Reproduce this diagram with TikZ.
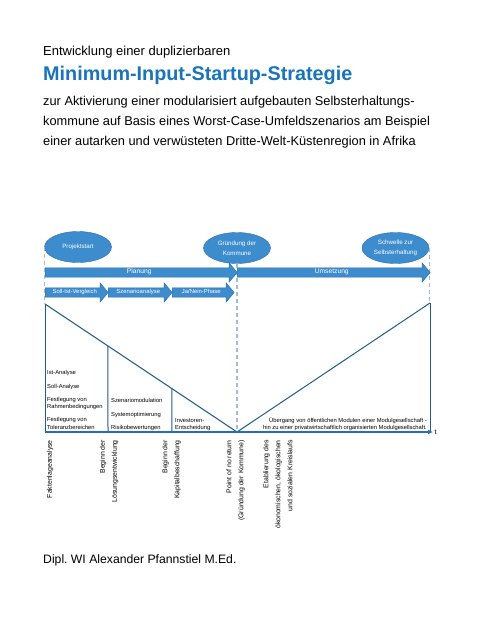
\documentclass[tikz,border=0pt]{standalone}
\usepackage{fontspec}
\setmainfont{Liberation Sans}
\usetikzlibrary{positioning,shapes.geometric,shapes.arrows,arrows.meta,calc}

\definecolor{mainblue}{HTML}{3D8CCD}
\definecolor{edgeblue}{HTML}{2B6FA9}
\definecolor{titleblue}{HTML}{1A74BA}
\definecolor{triline}{HTML}{1F5E88}
\definecolor{axisblue}{HTML}{2371B4}
\definecolor{dashblue}{HTML}{A0BDD8}

\frenchspacing

\tikzset{
    headline/.style={anchor=base west, inner sep=0pt, font=\fontsize{12.8}{16}\selectfont},
    milestone/.style={ellipse, draw=edgeblue, fill=mainblue, text=white, minimum width=67pt,
        minimum height=31pt, inner sep=0pt, align=center, font=\fontsize{6.2}{10}\selectfont},
    phase/.style={single arrow, draw=edgeblue, fill=mainblue, text=white, anchor=west,
        inner ysep=2.3pt, inner xsep=0pt, text height=3.4pt, text depth=0.9pt,
        single arrow head extend=5pt, single arrow tip angle=100, font=\fontsize{6.7}{7}\selectfont},
    subphase/.style={phase, font=\fontsize{5.9}{6}\selectfont},
    note/.style={anchor=base west, inner sep=0pt, font=\fontsize{5.8}{7}\selectfont},
    timelabel/.style={rotate=90, anchor=east, align=right, inner sep=0pt, font=\fontsize{6.9}{12}\selectfont},
    triline/.style={draw=triline, line width=1pt},
    guide/.style={draw=dashblue, line width=1.1pt, dash pattern=on 4pt off 3pt}
}

\begin{document}
\begin{tikzpicture}[x=1pt,y=-1pt]
    \useasboundingbox (0,0) rectangle (480,621);

    % Titel
    \node[headline, font=\fontsize{13}{16}\selectfont] (titel1) at (43,55) {Entwicklung einer duplizierbaren};
    \node[headline, text=titleblue, font=\bfseries\fontsize{19.8}{24}\selectfont] (titel2) at (43,80) {Minimum-Input-Startup-Strategie};
    \node[headline] (titel3) at (43,105) {zur Aktivierung einer modularisiert aufgebauten Selbsterhaltungs-};
    \node[headline] (titel4) at (43,125) {kommune auf Basis eines Worst-Case-Umfeldszenarios am Beispiel};
    \node[headline] (titel5) at (43,145) {einer autarken und verwüsteten Dritte-Welt-Küstenregion in Afrika};

    % Meilensteine
    \node[milestone] (start) at (78,247) {Projektstart};
    \node[milestone] (gruendung) at (237,248) {Gründung der\\Kommune};
    \node[milestone] (schwelle) at (395.5,248) {Schwelle zur\\Selbsterhaltung};

    \coordinate (ta) at (45,304);
    \coordinate (tv) at (237,432);
    \coordinate (tb) at (430,303);

    \draw[guide] (start.west) -- (start.west |- ta);
    \draw[guide] (gruendung.south) -- (tv);
    \draw[guide] (schwelle.east) -- (schwelle.east |- tb);

    % Phasen
    \node[phase, minimum height=192pt] (planung) at (45,272.5) {Planung};
    \node[phase, minimum height=193pt] (umsetzung) at (237,272.5) {Umsetzung};
    \node[subphase, minimum height=63pt] (sollist) at (45,292.5) {Soll-Ist-Vergleich};
    \node[subphase, minimum height=64pt] (szenario) at (108,292.5) {Szenarioanalyse};
    \node[subphase, minimum height=62pt] (janein) at (172,292.5) {Ja/Nein-Phase};

    % Verlauf
    \draw[triline] (ta) -- (tv) -- (tb);
    \draw[triline] (ta) -- (ta |- tv);
    \draw[triline] (tb) -- (tb |- tv);
    \foreach \xx/\ff in {108/0.328,172/0.661}
        \draw[triline] ($(ta)!\ff!(tv)$) -- (\xx,432);
    \draw[draw=axisblue, line width=1.1pt, -{Latex[length=5pt,width=5pt]}] (ta |- tv) -- (433,432)
        node[right=1pt, inner sep=0pt, font=\fontsize{7}{8}\selectfont] (tlabel) {t};

    \foreach \yy/\txt [count=\i] in {374/Ist-Analyse, 388/Soll-Analyse, 401/Festlegung von,
        408/Rahmenbedingungen, 421/Festlegung von, 429/Toleranzbereichen}
        \node[note] (analyse-\i) at (47,\yy) {\txt};
    \foreach \yy/\txt [count=\i] in {402/Szenariomodulation, 416/Systemoptimierung, 429/Risikobewertungen}
        \node[note] (modul-\i) at (111,\yy) {\txt};
    \foreach \yy/\txt [count=\i] in {422/Investoren-, 429/Entscheidung}
        \node[note] (investor-\i) at (175,\yy) {\txt};
    \node[note, anchor=base east] (uebergang-1) at (427,422.5) {Übergang von öffentlichen Modulen einer Modulgesellschaft -};
    \node[note, anchor=base east] (uebergang-2) at (427,429) {hin zu einer privatwirtschaftlich organisierten Modulgesellschaft.};

    % Zeitpunkte
    \foreach \xx/\txt [count=\i] in {50/Faktenlageanalyse, 109/{Beginn der\\Lösungsentwicklung},
        171.5/{Beginn der\\Kapitalbeschaffung}, 235.5/{Point of no return\\(Gründung der Kommune)},
        278/{Etablierung des\\ökonomischen, ökologischen\\und sozialen Kreislaufs}}
        \node[timelabel] (zeit-\i) at (\xx,440) {\txt};

    \node[headline, font=\fontsize{12.2}{15}\selectfont] (autor) at (43,563) {Dipl. WI Alexander Pfannstiel M.Ed.};
\end{tikzpicture}
\end{document}
